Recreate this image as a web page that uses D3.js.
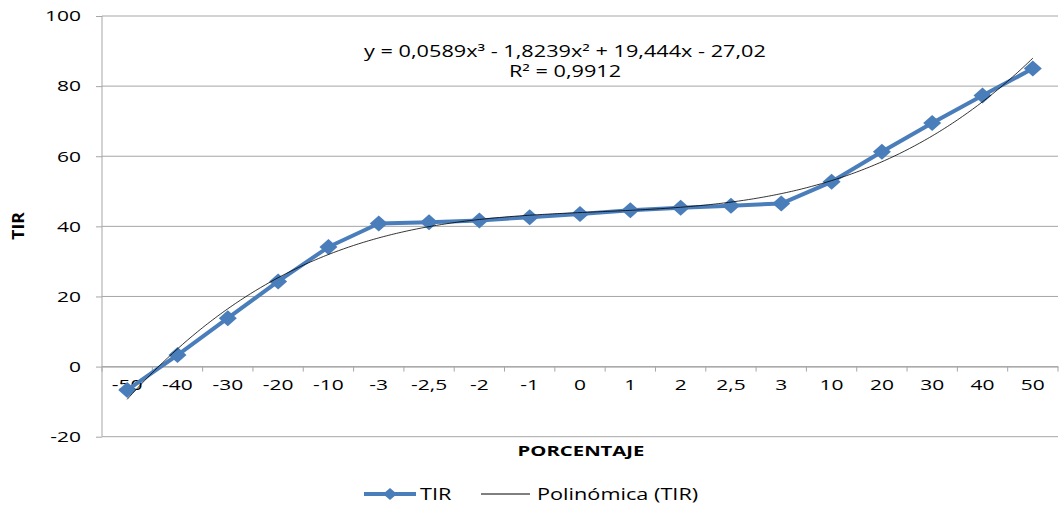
<!DOCTYPE html>
<html><head><meta charset="utf-8">
<script src="https://cdn.jsdelivr.net/npm/d3@7"></script>
<style>body{margin:0;background:#fff}svg{display:block}text{font-family:"Open Sans","Noto Sans",sans-serif}</style>
</head><body><svg id="c" width="1059" height="507"></svg>
<script>
const categories = ["-50","-40","-30","-20","-10","-3","-2,5","-2","-1","0","1","2","2,5","3","10","20","30","40","50"];
const tirValues = [-6.7,3.3,13.8,24.3,34.1,40.8,41.2,41.7,42.6,43.5,44.6,45.3,45.9,46.5,52.7,61.3,69.5,77.3,85.0];
const yTicks = [-20,0,20,40,60,80,100];
const trendCoef = [0.0589,-1.8239,19.444,-27.02]; // x^3, x^2, x, const
const equationText = "y = 0,0589x³ - 1,8239x² + 19,444x - 27,02";
const r2Text = "R² = 0,9912";

const SX = 1.4;
const svg = d3.select("#c");
const L=102,R=1058,T=16,B=436;
const x = d3.scaleBand().domain(categories).range([L,R]).paddingInner(0).paddingOuter(0);
const y = d3.scaleLinear().domain([-20,100]).range([B+0.7,T]);
const blue="#4a7ebb", grid="#a6a6a6";

function stretch(sel){
  sel.each(function(){
    const t=d3.select(this);
    const xv=+(t.attr("x")||0);
    t.attr("x",xv/SX).attr("transform",`scale(${SX},1)`);
  });
}
function stext(px,py,anchor,size,str,bold,sx){
  const g=svg.append("g").attr("transform",`translate(${px},${py}) scale(${sx||SX},1)`);
  const t=g.append("text").attr("text-anchor",anchor).attr("font-size",size).attr("fill","#000").text(str);
  if(bold) t.attr("font-weight","bold");
  return g;
}

// gridlines
svg.append("g").selectAll("line").data(yTicks).join("line")
  .attr("x1",L).attr("x2",R).attr("y1",d=>y(d)).attr("y2",d=>y(d))
  .attr("stroke",grid).attr("stroke-width",1);
// y axis
const ya = svg.append("g").attr("transform",`translate(${L},0)`)
  .call(d3.axisLeft(y).tickValues(yTicks).tickSize(6).tickPadding(15).tickFormat(d=>d));
ya.select(".domain").attr("stroke",grid).attr("d",`M0,${y(100)}V${y(-20)}`);
ya.selectAll(".tick line").attr("stroke",grid);
ya.selectAll("text").attr("font-size",15).attr("fill","#000").call(stretch);
// x axis at 0
const xa = svg.append("g").attr("transform",`translate(0,${y(0)})`)
  .call(d3.axisBottom(x).tickSize(0).tickPadding(13));
xa.select(".domain").attr("stroke",grid);
xa.selectAll("text").attr("font-size",15).attr("fill","#000").attr("dy","0.72em").call(stretch);
// tick marks between categories
svg.append("g").selectAll("line").data(d3.range(categories.length+1)).join("line")
  .attr("x1",i=>L+i*x.bandwidth()).attr("x2",i=>L+i*x.bandwidth())
  .attr("y1",y(0)).attr("y2",y(0)+5).attr("stroke",grid);

const cx = d=>x(d)+x.bandwidth()/2;
// series line
svg.append("path").datum(categories.map((c,i)=>[cx(c),y(tirValues[i])]))
  .attr("d",d3.line()).attr("fill","none").attr("stroke",blue).attr("stroke-width",4).attr("stroke-linejoin","round");
// markers
svg.append("g").selectAll("path").data(categories).join("path")
  .attr("transform",(c,i)=>`translate(${cx(c)},${y(tirValues[i])})`)
  .attr("d","M0,-8L9,0L0,8L-9,0Z").attr("fill",blue);
// trendline
const xi = d3.scaleLinear().domain([1,categories.length]).range([cx(categories[0]),cx(categories[categories.length-1])]);
const pts = d3.range(1,categories.length+0.001,0.05).map(t=>[xi(t),y(trendCoef[0]*t*t*t+trendCoef[1]*t*t+trendCoef[2]*t+trendCoef[3])]);
svg.append("path").datum(pts).attr("d",d3.line()).attr("fill","none").attr("stroke","#000").attr("stroke-width",0.8);

// equation
stext(565,57,"middle",15.5,equationText);
stext(565,77,"middle",15.5,r2Text);

// axis titles
svg.append("g").attr("transform","translate(24,226) rotate(-90) scale(1.1,1)").append("text").attr("text-anchor","middle")
  .attr("font-size",16).attr("font-weight","bold").text("TIR");
stext(581,456,"middle",14.5,"PORCENTAJE",true);

// legend
const lg = svg.append("g");
lg.append("line").attr("x1",364).attr("x2",416).attr("y1",494).attr("y2",494).attr("stroke",blue).attr("stroke-width",4);
lg.append("path").attr("transform","translate(390,494)").attr("d","M0,-6L7,0L0,6L-7,0Z").attr("fill",blue);
lg.append("line").attr("x1",481).attr("x2",530).attr("y1",494).attr("y2",494).attr("stroke","#000").attr("stroke-width",1);
stext(420,500,"start",15.5,"TIR");
stext(537,500,"start",15.5,"Polinómica (TIR)");
</script></body></html>
